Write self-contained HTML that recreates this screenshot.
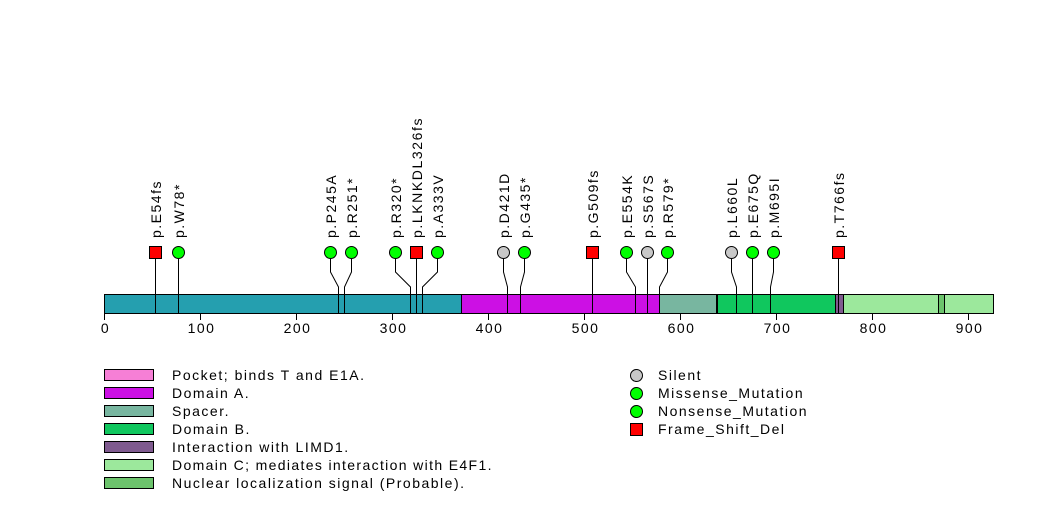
<!DOCTYPE html>
<html><head><meta charset="utf-8"><style>
html,body{margin:0;padding:0;background:#fff;}
svg{display:block;font-family:"Liberation Sans",Arial,sans-serif;}
text{letter-spacing:1.5px;}
</style></head><body>
<svg width="1047" height="524" viewBox="0 0 1047 524" xmlns="http://www.w3.org/2000/svg">
<rect width="1047" height="524" fill="#fff"/>
<g stroke="#000" stroke-width="1">
<rect x="104.5" y="294.5" width="357" height="19" fill="#259faf"/>
<rect x="461.5" y="294.5" width="198" height="19" fill="#cc10e4"/>
<rect x="659.5" y="294.5" width="57" height="19" fill="#78b6a0"/>
<rect x="717.5" y="294.5" width="118" height="19" fill="#10c75e"/>
<rect x="835.5" y="294.5" width="8" height="19" fill="#7f5a8f"/>
<rect x="843.5" y="294.5" width="150" height="19" fill="#9ce89c"/>
<rect x="938.5" y="294.5" width="6" height="19" fill="#6cc36c"/>
</g>
<g stroke="#000" stroke-width="1">
<line x1="104.5" y1="313" x2="104.5" y2="320"/>
<line x1="200.5" y1="313" x2="200.5" y2="320"/>
<line x1="296.5" y1="313" x2="296.5" y2="320"/>
<line x1="392.5" y1="313" x2="392.5" y2="320"/>
<line x1="488.5" y1="313" x2="488.5" y2="320"/>
<line x1="584.5" y1="313" x2="584.5" y2="320"/>
<line x1="680.5" y1="313" x2="680.5" y2="320"/>
<line x1="776.5" y1="313" x2="776.5" y2="320"/>
<line x1="872.5" y1="313" x2="872.5" y2="320"/>
<line x1="968.5" y1="313" x2="968.5" y2="320"/>
</g>
<g font-size="14" text-anchor="middle" fill="#000">
<text x="105.5" y="333">0</text><text x="201.5" y="333">100</text><text x="297.5" y="333">200</text>
<text x="393.5" y="333">300</text><text x="489.5" y="333">400</text><text x="585.5" y="333">500</text>
<text x="681.5" y="333">600</text><text x="777.5" y="333">700</text><text x="873.5" y="333">800</text>
<text x="969.5" y="333">900</text>
</g>
<g stroke="#000" stroke-width="1" fill="none">
<polyline points="155.5,258 155.5,313"/>
<polyline points="178.5,258 178.5,313"/>
<polyline points="330.5,258 330.5,272 338.5,287 338.5,313"/>
<polyline points="351.5,258 351.5,272 344.5,287 344.5,313"/>
<polyline points="395.5,258 395.5,272 410.5,287 410.5,313"/>
<polyline points="416.5,258 416.5,313"/>
<polyline points="437.5,258 437.5,272 422.5,287 422.5,313"/>
<polyline points="503.5,258 503.5,272 507.5,287 507.5,313"/>
<polyline points="524.5,258 524.5,272 520.5,287 520.5,313"/>
<polyline points="592.5,258 592.5,313"/>
<polyline points="626.5,258 626.5,272 635.5,287 635.5,313"/>
<polyline points="647.5,258 647.5,313"/>
<polyline points="667.5,258 667.5,272 659.5,287 659.5,313"/>
<polyline points="731.5,258 731.5,272 736.5,287 736.5,313"/>
<polyline points="752.5,258 752.5,313"/>
<polyline points="773.5,258 773.5,272 770.5,287 770.5,313"/>
<polyline points="838.5,258 838.5,313"/>
</g>
<g stroke="#000" stroke-width="1">
<rect x="149.5" y="246.5" width="12" height="12" fill="#f00"/>
<circle cx="178.5" cy="252.5" r="6" fill="#0f0"/>
<circle cx="330.5" cy="252.5" r="6" fill="#0f0"/>
<circle cx="351.5" cy="252.5" r="6" fill="#0f0"/>
<circle cx="395.5" cy="252.5" r="6" fill="#0f0"/>
<rect x="410.5" y="246.5" width="12" height="12" fill="#f00"/>
<circle cx="437.5" cy="252.5" r="6" fill="#0f0"/>
<circle cx="503.5" cy="252.5" r="6" fill="#c8c8c8"/>
<circle cx="524.5" cy="252.5" r="6" fill="#0f0"/>
<rect x="586.5" y="246.5" width="12" height="12" fill="#f00"/>
<circle cx="626.5" cy="252.5" r="6" fill="#0f0"/>
<circle cx="647.5" cy="252.5" r="6" fill="#c8c8c8"/>
<circle cx="667.5" cy="252.5" r="6" fill="#0f0"/>
<circle cx="731.5" cy="252.5" r="6" fill="#c8c8c8"/>
<circle cx="752.5" cy="252.5" r="6" fill="#0f0"/>
<circle cx="773.5" cy="252.5" r="6" fill="#0f0"/>
<rect x="832.5" y="246.5" width="12" height="12" fill="#f00"/>
</g>
<g font-size="14" fill="#000">
<text transform="translate(161,238) rotate(-90)">p.E54fs</text>
<text transform="translate(184,238) rotate(-90)">p.W78*</text>
<text transform="translate(336,238) rotate(-90)">p.P245A</text>
<text transform="translate(357,238) rotate(-90)">p.R251*</text>
<text transform="translate(401,238) rotate(-90)">p.R320*</text>
<text transform="translate(422,238) rotate(-90)" textLength="121" lengthAdjust="spacing">p.LKNKDL326fs</text>
<text transform="translate(443,238) rotate(-90)">p.A333V</text>
<text transform="translate(509,238) rotate(-90)">p.D421D</text>
<text transform="translate(530,238) rotate(-90)">p.G435*</text>
<text transform="translate(598,238) rotate(-90)">p.G509fs</text>
<text transform="translate(632,238) rotate(-90)">p.E554K</text>
<text transform="translate(653,238) rotate(-90)">p.S567S</text>
<text transform="translate(673,238) rotate(-90)">p.R579*</text>
<text transform="translate(737,238) rotate(-90)">p.L660L</text>
<text transform="translate(758,238) rotate(-90)">p.E675Q</text>
<text transform="translate(779,238) rotate(-90)">p.M695I</text>
<text transform="translate(844,238) rotate(-90)">p.T766fs</text>
</g>
<g stroke="#000" stroke-width="1">
<rect x="104.5" y="369.5" width="49" height="11" fill="#f67fd6"/>
<rect x="104.5" y="387.5" width="49" height="11" fill="#cc10e4"/>
<rect x="104.5" y="405.5" width="49" height="11" fill="#78b6a0"/>
<rect x="104.5" y="423.5" width="49" height="11" fill="#10c75e"/>
<rect x="104.5" y="441.5" width="49" height="11" fill="#7f5a8f"/>
<rect x="104.5" y="459.5" width="49" height="11" fill="#9ce89c"/>
<rect x="104.5" y="477.5" width="49" height="11" fill="#6cc36c"/>
</g>
<g font-size="14" fill="#000">
<text x="172" y="380">Pocket; binds T and E1A.</text>
<text x="172" y="398">Domain A.</text>
<text x="172" y="416">Spacer.</text>
<text x="172" y="434">Domain B.</text>
<text x="172" y="452">Interaction with LIMD1.</text>
<text x="172" y="470" textLength="321" lengthAdjust="spacing">Domain C; mediates interaction with E4F1.</text>
<text x="172" y="488">Nuclear localization signal (Probable).</text>
</g>
<g stroke="#000" stroke-width="1">
<circle cx="636.5" cy="375.5" r="6" fill="#c8c8c8"/>
<circle cx="636.5" cy="393.5" r="6" fill="#0f0"/>
<circle cx="636.5" cy="411.5" r="6" fill="#0f0"/>
<rect x="630.5" y="423.5" width="12" height="12" fill="#f00"/>
</g>
<g font-size="14" fill="#000">
<text x="658" y="380">Silent</text>
<text x="658" y="398">Missense_Mutation</text>
<text x="658" y="416">Nonsense_Mutation</text>
<text x="658" y="434">Frame_Shift_Del</text>
</g>
</svg>
</body></html>
